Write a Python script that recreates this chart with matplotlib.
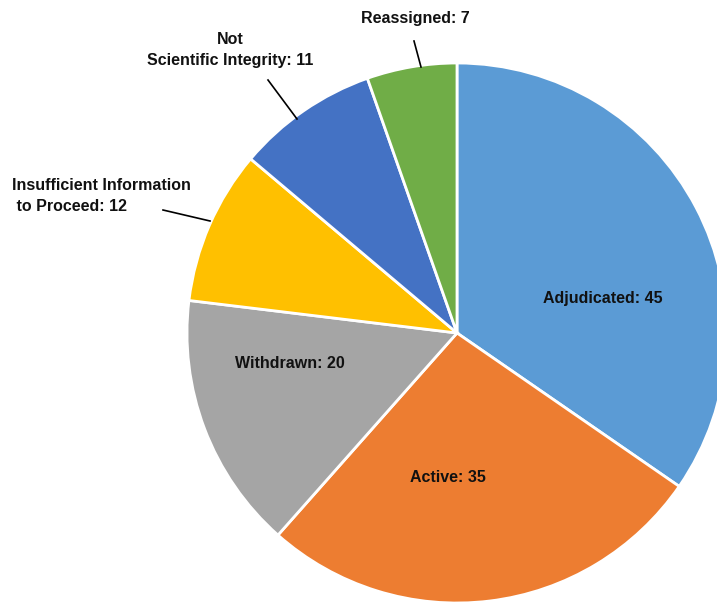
import matplotlib.pyplot as plt

# data
labels = ['Adjudicated', 'Active', 'Withdrawn', 'Insufficient Information\n to Proceed',
          'Not\nScientific Integrity', 'Reassigned']
values = [45, 35, 20, 12, 11, 7]
colors = ['#5B9BD5', '#ED7D31', '#A5A5A5', '#FFC000', '#4472C4', '#70AD47']

W, H = 717, 603
fig = plt.figure(figsize=(W / 100, H / 100), dpi=100)
ax = fig.add_axes([0, 0, 1, 1])

cx, cy, r = 457, H - 333, 270
ax.pie(values, colors=colors, startangle=90, counterclock=False,
       center=(cx, cy), radius=r, frame=True,
       wedgeprops=dict(edgecolor='white', linewidth=2))
ax.set_xlim(0, W)
ax.set_ylim(0, H)
ax.axis('off')

font = dict(family=['Liberation Sans', 'DejaVu Sans'], fontweight='bold',
            fontsize=11.5, color='#111111')

txt = [f'{l}: {v}' for l, v in zip(labels, values)]

# labels inside
ax.text(603, H - 298, txt[0], ha='center', va='center', **font)
ax.text(448, H - 477, txt[1], ha='center', va='center', **font)
ax.text(290, H - 363, txt[2], ha='center', va='center', **font)

# labels outside with leader lines
ax.text(12, H - 196, txt[3], ha='left', va='center', linespacing=1.5, **font)
ax.plot([163, 210], [H - 210, H - 221], color='black', lw=1.2)

ax.text(230, H - 50, txt[4], ha='center', va='center', linespacing=1.5,
        multialignment='center', **font)
ax.plot([268, 297], [H - 80, H - 119], color='black', lw=1.2)

ax.text(415, H - 18, txt[5], ha='center', va='center', **font)
ax.plot([414, 421], [H - 41, H - 67], color='black', lw=1.2)

plt.savefig('out.png', dpi=100)
